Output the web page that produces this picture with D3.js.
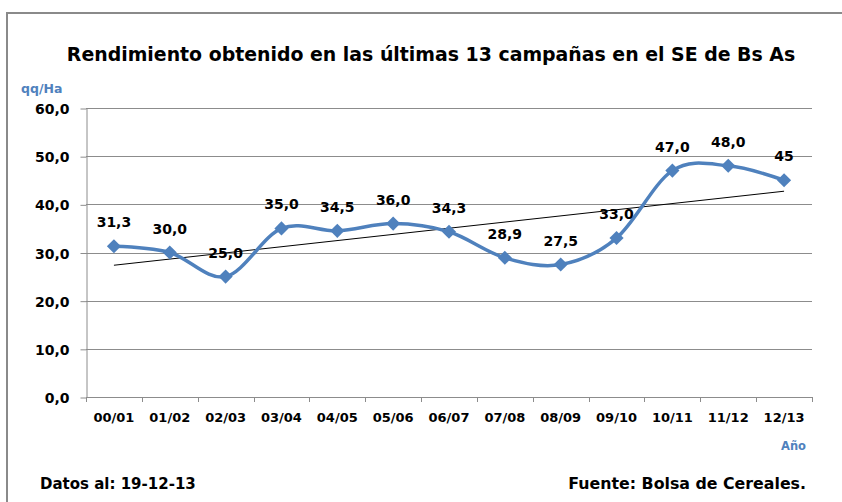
<!DOCTYPE html>
<html>
<head>
<meta charset="utf-8">
<script src="https://cdn.jsdelivr.net/npm/d3@7"></script>
<style>
  body { margin: 0; background: #fff; }
  text { font-family: "DejaVu Sans", sans-serif; font-weight: bold; }
</style>
</head>
<body>
<div id="chart"></div>
<script>
// campaigns and yield (qq/Ha)
var campaigns = ["00/01", "01/02", "02/03", "03/04", "04/05", "05/06", "06/07",
                 "07/08", "08/09", "09/10", "10/11", "11/12", "12/13"];
var yields = [31.3, 30.0, 25.0, 35.0, 34.5, 36.0, 34.3, 28.9, 27.5, 33.0, 47.0, 48.0, 45];
var labels = ["31,3", "30,0", "25,0", "35,0", "34,5", "36,0", "34,3", "28,9", "27,5", "33,0", "47,0", "48,0", "45"];
var yTicks = [0, 10, 20, 30, 40, 50, 60];

var width = 842, height = 502;
var blue = "#4F81BD";
var grid = "#8c8c8c";

var svg = d3.select("#chart").append("svg")
  .attr("width", width)
  .attr("height", height);

// frame
svg.append("path")
  .attr("d", "M7," + height + "V13H" + width)
  .attr("fill", "none")
  .attr("stroke", "#8a8a8a")
  .attr("stroke-width", 2);

var pLeft = 86, pRight = 812, pTop = 108, pBottom = 397;

var x = d3.scaleBand().domain(campaigns).range([pLeft, pRight]);
var y = d3.scaleLinear().domain([0, 60]).range([pBottom, pTop]);

// title
svg.append("text")
  .attr("x", 431).attr("y", 61)
  .attr("text-anchor", "middle")
  .attr("font-size", 18.9)
  .text("Rendimiento obtenido en las últimas 13 campañas en el SE de Bs As");

// gridlines
svg.append("g").selectAll("line")
  .data(yTicks.slice(1))
  .enter().append("line")
  .attr("x1", pLeft).attr("x2", pRight)
  .attr("y1", function(d) { return Math.round(y(d)) + 0.5; })
  .attr("y2", function(d) { return Math.round(y(d)) + 0.5; })
  .attr("stroke", grid);

// y axis
var yAxis = svg.append("g")
  .attr("transform", "translate(" + (pLeft + 0.5) + ",0.5)")
  .call(d3.axisLeft(y).tickValues(yTicks).tickSize(6).tickSizeOuter(0)
    .tickFormat(function(d) { return d3.format(".1f")(d).replace(".", ","); }));
yAxis.select(".domain").attr("stroke", grid);
yAxis.selectAll(".tick line").attr("stroke", grid);
yAxis.selectAll(".tick text")
  .attr("x", -17)
  .attr("dy", "0.36em")
  .attr("font-size", 14)
  .attr("font-family", "'DejaVu Sans', sans-serif")
  .attr("fill", "#000");

// x axis: ticks on category boundaries
svg.append("line")
  .attr("x1", pLeft).attr("x2", pRight)
  .attr("y1", pBottom + 0.5).attr("y2", pBottom + 0.5)
  .attr("stroke", grid);
svg.append("g").selectAll("line")
  .data(campaigns.concat([null]))
  .enter().append("line")
  .attr("x1", function(d, i) { return Math.round(pLeft + i * x.step()) + 0.5; })
  .attr("x2", function(d, i) { return Math.round(pLeft + i * x.step()) + 0.5; })
  .attr("y1", pBottom).attr("y2", pBottom + 5)
  .attr("stroke", grid);
svg.append("g").selectAll("text")
  .data(campaigns)
  .enter().append("text")
  .attr("x", function(d) { return x(d) + x.bandwidth() / 2; })
  .attr("y", 422)
  .attr("text-anchor", "middle")
  .attr("font-size", 13)
  .text(function(d) { return d; });

// axis titles
svg.append("text")
  .attr("x", 21).attr("y", 93)
  .attr("font-size", 12.5)
  .attr("fill", blue)
  .text("qq/Ha");
svg.append("text")
  .attr("x", 806).attr("y", 450)
  .attr("text-anchor", "end")
  .attr("font-size", 11.5)
  .attr("fill", blue)
  .text("Año");

// linear trend
var n = yields.length;
var mx = d3.mean(d3.range(n)), my = d3.mean(yields);
var slope = d3.sum(yields, function(v, i) { return (i - mx) * (v - my); }) /
            d3.sum(yields, function(v, i) { return (i - mx) * (i - mx); });
var icpt = my - slope * mx;
var cx = function(i) { return x(campaigns[i]) + x.bandwidth() / 2; };
svg.append("line")
  .attr("x1", cx(0)).attr("y1", y(icpt))
  .attr("x2", cx(n - 1)).attr("y2", y(icpt + slope * (n - 1)))
  .attr("stroke", "#000").attr("stroke-width", 1);

// smoothed series
var line = d3.line()
  .x(function(d, i) { return cx(i); })
  .y(function(d) { return y(d); })
  .curve(d3.curveCardinal.tension(0));
svg.append("path")
  .datum(yields)
  .attr("d", line)
  .attr("fill", "none")
  .attr("stroke", blue)
  .attr("stroke-width", 3.5);

// markers
svg.append("g").selectAll("path")
  .data(yields)
  .enter().append("path")
  .attr("d", d3.symbol().type(d3.symbolSquare).size(100))
  .attr("transform", function(d, i) { return "translate(" + cx(i) + "," + y(d) + ") rotate(45)"; })
  .attr("fill", blue);

// data labels
svg.append("g").selectAll("text")
  .data(yields)
  .enter().append("text")
  .attr("x", function(d, i) { return cx(i); })
  .attr("y", function(d) { return y(d) - 19; })
  .attr("text-anchor", "middle")
  .attr("font-size", 14)
  .text(function(d, i) { return labels[i]; });

// footer
svg.append("text")
  .attr("x", 40).attr("y", 489)
  .attr("font-size", 15)
  .text("Datos al: 19-12-13");
svg.append("text")
  .attr("x", 806).attr("y", 489)
  .attr("text-anchor", "end")
  .attr("font-size", 15.8)
  .text("Fuente: Bolsa de Cereales.");
</script>
</body>
</html>
